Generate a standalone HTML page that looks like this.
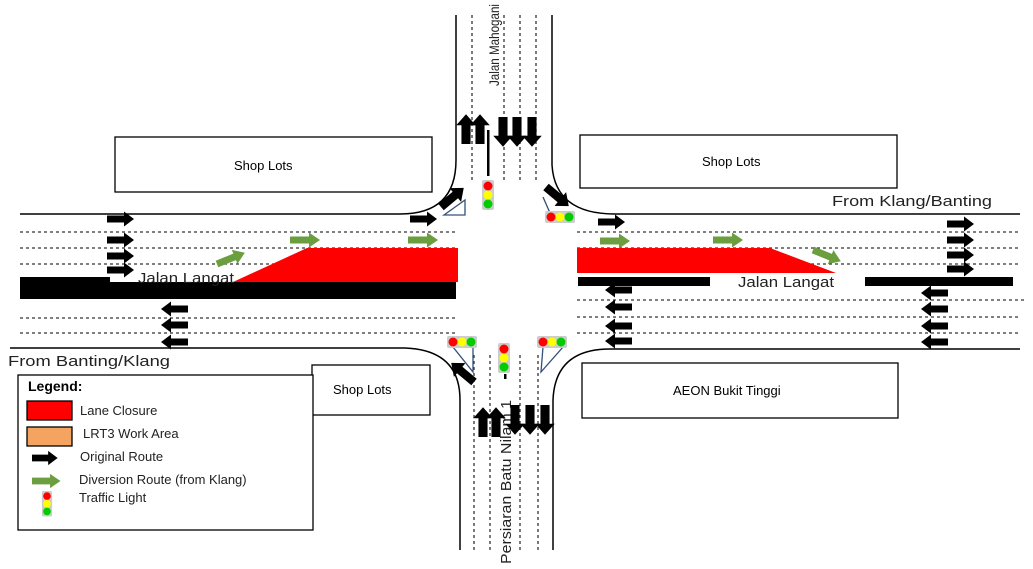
<!DOCTYPE html>
<html><head><meta charset="utf-8"><style>
html,body{margin:0;padding:0;background:#fff;}
svg{display:block;font-family:"Liberation Sans",sans-serif;}
</style></head><body>
<svg width="1033" height="569" viewBox="0 0 1033 569" xmlns="http://www.w3.org/2000/svg">
<defs>
<path id="ar" d="M0,-3.5 H17 V-7.5 L27,0 L17,7.5 V3.5 H0 Z"/>
<path id="ga" d="M0,-3.5 H19 V-7.5 L30,0 L19,7.5 V3.5 H0 Z"/>
<g id="tlv"><rect x="-6" y="0" width="12" height="30" rx="2" fill="#ccc"/><circle cx="0" cy="6" r="4.5" fill="#f00"/><circle cx="0" cy="15" r="4.5" fill="#ff0"/><circle cx="0" cy="24" r="4.5" fill="#0c0"/></g>
<g id="tlh"><rect x="0" y="-6" width="30" height="12" rx="2" fill="#ccc"/><circle cx="6" cy="0" r="4.5" fill="#f00"/><circle cx="15" cy="0" r="4.5" fill="#ff0"/><circle cx="24" cy="0" r="4.5" fill="#0c0"/></g>
</defs>
<g fill="none" stroke="#000" stroke-width="1.5">
<path d="M20,214 H400 Q456,214 456,160 V15"/>
<path d="M552,15 V165 Q555,214 615,214 H1020"/>
<path d="M10,348 H405 Q460,350 460,400 V550"/>
<path d="M553,550 V400 Q555,349 610,349 H1020"/>
</g>
<g fill="none" stroke="#333" stroke-width="1.3" stroke-dasharray="3,3">
<path d="M20,232H456 M20,248H456 M20,264H456 M20,318H456 M20,333H456"/>
<path d="M577,232H1018 M577,248H1018 M577,264H1018 M577,300H1025 M577,317H1018 M577,333H1018"/>
<path d="M472,15V180 M504,15V180 M520,15V180 M536,15V180"/>
<path d="M474,355V550 M490,355V550 M520,355V550 M538,355V550"/>
</g>
<rect x="20" y="277" width="90" height="22" fill="#000"/>
<rect x="108" y="282" width="348" height="17" fill="#000"/>
<polygon points="233,282 307,248 458,248 458,282" fill="#f00"/>
<rect x="578" y="277" width="132" height="9" fill="#000"/>
<rect x="865" y="277" width="148" height="9" fill="#000"/>
<polygon points="577,248 770,248 836,273 577,273" fill="#f00"/>
<g fill="#fff" stroke="#000" stroke-width="1.3">
<rect x="115" y="137" width="317" height="55"/>
<rect x="580" y="135" width="317" height="53"/>
<rect x="312" y="365" width="118" height="50"/>
<rect x="582" y="363" width="316" height="55"/>
<rect x="18" y="375" width="295" height="155"/>
</g>
<g font-size="13" fill="#000">
<text x="234" y="170">Shop Lots</text>
<text x="702" y="166">Shop Lots</text>
<text x="333" y="394">Shop Lots</text>
<text x="673" y="395">AEON Bukit Tinggi</text>
<g lengthAdjust="spacingAndGlyphs" fill="#222">
<text x="138" y="283" font-size="15" textLength="96" lengthAdjust="spacingAndGlyphs">Jalan Langat</text>
<text x="738" y="287" font-size="15" textLength="96" lengthAdjust="spacingAndGlyphs">Jalan Langat</text>
<text x="832" y="206" font-size="15" textLength="160" lengthAdjust="spacingAndGlyphs">From Klang/Banting</text>
<text x="8" y="366" font-size="15" textLength="162" lengthAdjust="spacingAndGlyphs">From Banting/Klang</text>
<text transform="translate(499,86) rotate(-90)" font-size="14" textLength="82" lengthAdjust="spacingAndGlyphs">Jalan Mahogani</text>
<text transform="translate(511,564) rotate(-90)" font-size="15" textLength="164" lengthAdjust="spacingAndGlyphs">Persiaran Batu Nilam 1</text>
</g>
</g>
<g fill="#000">
<use href="#ar" transform="translate(107,219)"/>
<use href="#ar" transform="translate(107,240)"/>
<use href="#ar" transform="translate(107,256)"/>
<use href="#ar" transform="translate(107,270)"/>
<use href="#ar" transform="translate(188,309) scale(-1,1)"/>
<use href="#ar" transform="translate(188,325) scale(-1,1)"/>
<use href="#ar" transform="translate(188,342) scale(-1,1)"/>
<use href="#ar" transform="translate(410,219)"/>
<use href="#ar" transform="translate(598,222)"/>
<use href="#ar" transform="translate(947,224)"/>
<use href="#ar" transform="translate(947,240)"/>
<use href="#ar" transform="translate(947,255)"/>
<use href="#ar" transform="translate(947,269)"/>
<use href="#ar" transform="translate(632,290) scale(-1,1)"/>
<use href="#ar" transform="translate(632,307) scale(-1,1)"/>
<use href="#ar" transform="translate(632,326) scale(-1,1)"/>
<use href="#ar" transform="translate(632,341) scale(-1,1)"/>
<use href="#ar" transform="translate(948,293) scale(-1,1)"/>
<use href="#ar" transform="translate(948,309) scale(-1,1)"/>
<use href="#ar" transform="translate(948,326) scale(-1,1)"/>
<use href="#ar" transform="translate(948,342) scale(-1,1)"/>
<use href="#ar" transform="translate(466,144) rotate(-90) scale(1.1,1.3)"/>
<use href="#ar" transform="translate(480,144) rotate(-90) scale(1.1,1.3)"/>
<use href="#ar" transform="translate(503,117) rotate(90) scale(1.1,1.3)"/>
<use href="#ar" transform="translate(517,117) rotate(90) scale(1.1,1.3)"/>
<use href="#ar" transform="translate(532,117) rotate(90) scale(1.1,1.3)"/>
<use href="#ar" transform="translate(441,207) rotate(-40) scale(1.1,1.2)"/>
<use href="#ar" transform="translate(546,187) rotate(40) scale(1.1,1.2)"/>
<use href="#ar" transform="translate(483,437) rotate(-90) scale(1.1,1.3)"/>
<use href="#ar" transform="translate(496,437) rotate(-90) scale(1.1,1.3)"/>
<use href="#ar" transform="translate(515,405) rotate(90) scale(1.1,1.3)"/>
<use href="#ar" transform="translate(530,405) rotate(90) scale(1.1,1.3)"/>
<use href="#ar" transform="translate(545,405) rotate(90) scale(1.1,1.3)"/>
<use href="#ar" transform="translate(474,382) rotate(-140) scale(1.1,1.2)"/>
</g>
<rect x="487" y="130" width="2.5" height="46" fill="#000"/>
<rect x="504" y="374" width="2.5" height="5" fill="#000"/>
<g fill="#6a9e3e">
<use href="#ga" transform="translate(217,264) rotate(-22)"/>
<use href="#ga" transform="translate(290,240)"/>
<use href="#ga" transform="translate(408,240)"/>
<use href="#ga" transform="translate(600,241)"/>
<use href="#ga" transform="translate(713,240)"/>
<use href="#ga" transform="translate(813,250) rotate(22)"/>
</g>
<g fill="none" stroke="#34507a" stroke-width="1.3">
<polygon points="444,215 465,200 465,215"/>
<polyline points="543,197 550,213"/>
<polygon points="453,347 473,347 473,372"/>
<polygon points="543,347 563,347 541,372"/>
</g>
<use href="#tlv" transform="translate(488,180)"/>
<use href="#tlh" transform="translate(545,217)"/>
<use href="#tlh" transform="translate(447,342)"/>
<use href="#tlh" transform="translate(537,342)"/>
<use href="#tlv" transform="translate(504,343)"/>
<text x="28" y="391" font-size="14" font-weight="bold">Legend:</text>
<rect x="27" y="401" width="45" height="19" fill="#f00" stroke="#000" stroke-width="1.3"/>
<rect x="27" y="427" width="45" height="19" fill="#f4a460" stroke="#000" stroke-width="1.3"/>
<use href="#ar" transform="translate(32,458) scale(0.95)" fill="#000"/>
<use href="#ga" transform="translate(32,481) scale(0.95)" fill="#6a9e3e"/>
<use href="#tlv" transform="translate(47,491) scale(0.85)"/>
<g font-size="13" fill="#222">
<text x="80" y="415">Lane Closure</text>
<text x="83" y="438">LRT3 Work Area</text>
<text x="80" y="461">Original Route</text>
<text x="79" y="484">Diversion Route (from Klang)</text>
<text x="79" y="502">Traffic Light</text>
</g>
</svg>
</body></html>
